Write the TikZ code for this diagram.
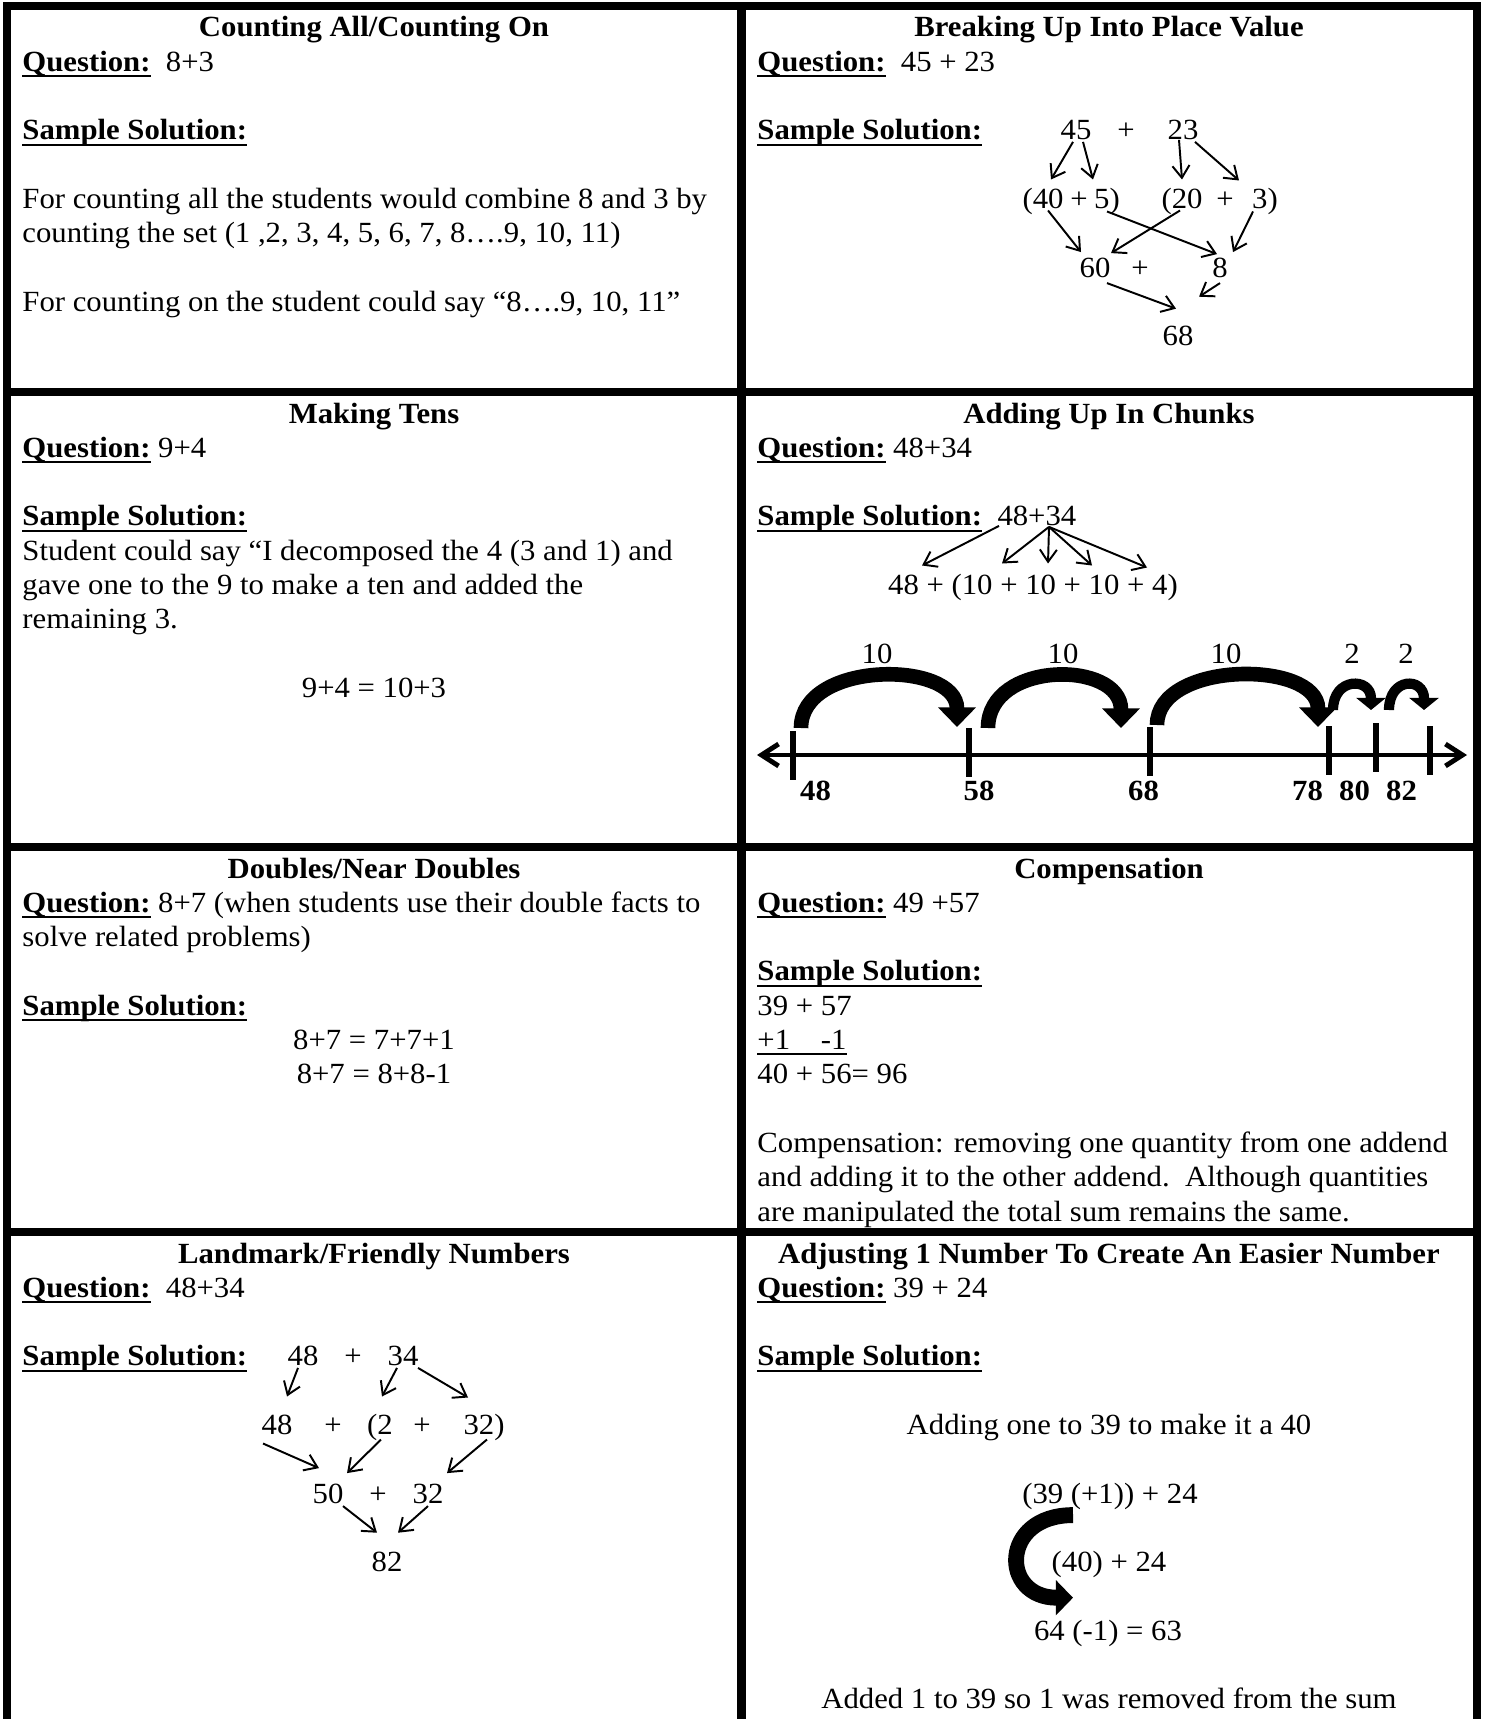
\documentclass[tikz,border=0pt,12pt]{standalone}
\usepackage{fontspec}
\setmainfont{Liberation Serif}[FakeStretch=1.05]
\usetikzlibrary{arrows.meta,calc}
\newcommand{\undl}[1]{\setbox0=\hbox{#1}\rlap{\rule[-2.4pt]{\wd0}{0.9pt}}\box0\relax}
\tikzset{
  gridline/.style={line width=3.3pt},
  ttl/.style={font=\bfseries,anchor=base,inner sep=0pt},
  txt/.style={anchor=base west,inner sep=0pt},
  ctr/.style={anchor=base,inner sep=0pt},
  nl/.style={font=\bfseries,anchor=base,inner sep=0pt},
  arr/.style={-{Straight Barb[length=5pt,width=7pt]},line width=0.8pt},
  numline/.style={{Straight Barb[length=7pt,width=9pt]}-{Straight Barb[length=7pt,width=9pt]},line width=2pt},
  tickline/.style={line width=2.2pt},
  jump/.style={-{Triangle[length=8pt,width=15pt]},line width=6pt},
  hop/.style={-{Triangle[length=5pt,width=12pt]},line width=4.2pt},
  swing/.style={-{Triangle[length=7pt,width=14pt]},line width=6.5pt}
}
\begin{document}
\begin{tikzpicture}[x=0.41pt,y=-0.41pt]
  \useasboundingbox (0,0) rectangle (1484,1719);

  \node[ttl] (t1) at (374,37) {Counting All/Counting On};
  \node[txt] (q1) at (22,71.3) {\undl{\textbf{Question:}}\ \ 8+3};
  \node[txt] (s1) at (22,139.9) {\undl{\textbf{Sample Solution:}}};
  \node[txt] (c1a) at (22,208.5) {For counting all the students would combine 8 and 3 by};
  \node[txt] (c1b) at (22,242.8) {counting the set (1 ,2, 3, 4, 5, 6, 7, 8….9, 10, 11)};
  \node[txt] (c1c) at (22,311.4) {For counting on the student could say “8….9, 10, 11”};

  \node[ttl] (t2) at (1109,37) {Breaking Up Into Place Value};
  \node[txt] (q2) at (757,71.3) {\undl{\textbf{Question:}}\ \ 45 + 23};
  \node[txt] (s2) at (757,139.9) {\undl{\textbf{Sample Solution:}}};
  \node[ctr] (p45) at (1076,139.9) {45};
  \node[ctr] (ppa) at (1126,139.9) {+};
  \node[ctr] (p23) at (1183,139.9) {23};
  \node[ctr] (p40) at (1043,208.5) {(40};
  \node[ctr] (ppb) at (1079,208.5) {+};
  \node[ctr] (p5) at (1107,208.5) {5)};
  \node[ctr] (p20) at (1182,208.5) {(20};
  \node[ctr] (ppc) at (1225,208.5) {+};
  \node[ctr] (p3) at (1265,208.5) {3)};
  \node[ctr] (p60) at (1095,277.1) {60};
  \node[ctr] (ppd) at (1140,277.1) {+};
  \node[ctr] (p8) at (1220,277.1) {8};
  \node[ctr] (p68) at (1178,345.7) {68};
  \foreach \a/\ax/\ay/\b/\bx/\by in {p45/-3/2/p40/8/-29,p45/7/2/p5/-14/-29,
      p23/-4/0/p20/0/-29,p23/12/2/p3/-26/-28,p40/5/2/p60/-14/-25,p5/0/3/p8/-3/-23,
      p20/-2/2/p60/16/-24,p3/-12/3/p8/13/-25,p60/12/6/p68/-2/-37,p8/0/6/p68/21/-49}
    \draw[arr] ($(\a.base)+(\ax,\ay)$) -- ($(\b.base)+(\bx,\by)$);

  \node[ttl] (t3) at (374,423) {Making Tens};
  \node[txt] (q3) at (22,457.3) {\undl{\textbf{Question:}} 9+4};
  \node[txt] (s3) at (22,525.9) {\undl{\textbf{Sample Solution:}}};
  \node[txt] (c3a) at (22,560.2) {Student could say “I decomposed the 4 (3 and 1) and};
  \node[txt] (c3b) at (22,594.5) {gave one to the 9 to make a ten and added the};
  \node[txt] (c3c) at (22,628.8) {remaining 3.};
  \node[ctr] (c3d) at (374,697.4) {9+4 = 10+3};

  \node[ttl] (t4) at (1109,423) {Adding Up In Chunks};
  \node[txt] (q4) at (757,457.3) {\undl{\textbf{Question:}} 48+34};
  \node[txt] (s4) at (757,525.9) {\undl{\textbf{Sample Solution:}}};
  \node[txt] (k4834) at (997,525.9) {48+34};
  \node[ctr] (ksum) at (1033,594.5) {48 + (10 + 10 + 10 + 4)};
  \draw[arr] ($(k4834.base west)+(2,0)$) -- ($(ksum.base)+(-111,-29)$);
  \foreach \bx/\by in {-31/-31,15/-31,59/-29,114/-27}
    \draw[arr] ($(k4834.base west)+(52,1)$) -- ($(ksum.base)+(\bx,\by)$);
  \coordinate (nlL) at (757,755);
  \coordinate (nlR) at (1467,755);
  \draw[numline] (nlL) -- (nlR);
  \foreach \x/\t in {793/731,969/728,1150/727,1329/726,1376/723,1430/726}
    \draw[tickline] (\x,\t) -- (\x,\t+49);
  \foreach \x/\v in {815.5/48,979/58,1143.5/68,1307.5/78,1354.5/80,1401.5/82}
    \node[nl] (v\v) at (\x,800.3) {\v};
  \foreach \x/\v/\n in {877/10/a,1063/10/b,1226/10/c,1352/2/d,1406/2/e}
    \node[ctr] (j\n) at (\x,663.1) {\v};
  \foreach \a/\b/\c/\d in {801/728/957/727,988/728/1121/728,1157/725/1318/727}
    \draw[jump] (\a,\b) .. controls (\a,660) and (\c,660) .. (\c,\d);
  \foreach \a/\c in {1333/1371,1389/1424}
    \draw[hop] (\a,710) .. controls (\a,677) and (\c,677) .. (\c,710);

  \node[ttl] (t5) at (374,878) {Doubles/Near Doubles};
  \node[txt] (q5) at (22,912.3) {\undl{\textbf{Question:}} 8+7 (when students use their double facts to};
  \node[txt] (q5b) at (22,946.6) {solve related problems)};
  \node[txt] (s5) at (22,1015.2) {\undl{\textbf{Sample Solution:}}};
  \node[ctr] (d5a) at (374,1049.5) {8+7 = 7+7+1};
  \node[ctr] (d5b) at (374,1083.8) {8+7 = 8+8-1};

  \node[ttl] (t6) at (1109,878) {Compensation};
  \node[txt] (q6) at (757,912.3) {\undl{\textbf{Question:}} 49 +57};
  \node[txt] (s6) at (757,980.9) {\undl{\textbf{Sample Solution:}}};
  \node[txt] (e6a) at (757,1015.2) {39 + 57};
  \node[txt] (e6b) at (757,1049.5) {\undl{+1\ \ \ \ -1}};
  \node[txt] (e6c) at (757,1083.8) {40 + 56= 96};
  \node[txt] (e6d) at (757,1152.4) {Compensation: removing one quantity from one addend};
  \node[txt] (e6e) at (757,1186.7) {and adding it to the other addend.\ \ Although quantities};
  \node[txt] (e6f) at (757,1221) {are manipulated the total sum remains the same.};

  \node[ttl] (t7) at (374,1263) {Landmark/Friendly Numbers};
  \node[txt] (q7) at (22,1297.3) {\undl{\textbf{Question:}}\ \ 48+34};
  \node[txt] (s7) at (22,1365.9) {\undl{\textbf{Sample Solution:}}};
  \node[ctr] (l48a) at (303,1365.9) {48};
  \node[ctr] (lpa) at (353,1365.9) {+};
  \node[ctr] (l34) at (403,1365.9) {34};
  \node[ctr] (l48b) at (277,1434.5) {48};
  \node[ctr] (lpb) at (333,1434.5) {+};
  \node[ctr] (l2) at (380,1434.5) {(2};
  \node[ctr] (lpc) at (422,1434.5) {+};
  \node[ctr] (l32a) at (484,1434.5) {32)};
  \node[ctr] (l50) at (328,1503.1) {50};
  \node[ctr] (lpd) at (378,1503.1) {+};
  \node[ctr] (l32b) at (428,1503.1) {32};
  \node[ctr] (l82) at (387,1571.7) {82};
  \foreach \a/\ax/\ay/\b/\bx/\by in {l48a/-5/2/l48b/10/-38,l34/-6/2/l2/2/-38,
      l34/15/2/l32a/-16/-37,l48b/-14/9/l50/-9/-35,l2/1/5/l50/19/-30,
      l32a/3/5/l32b/19/-30,l50/15/3/l82/-10/-39,l32b/0/3/l82/11/-39}
    \draw[arr] ($(\a.base)+(\ax,\ay)$) -- ($(\b.base)+(\bx,\by)$);

  \node[ttl] (t8) at (1109,1263) {Adjusting 1 Number To Create An Easier Number};
  \node[txt] (q8) at (757,1297.3) {\undl{\textbf{Question:}} 39 + 24};
  \node[txt] (s8) at (757,1365.9) {\undl{\textbf{Sample Solution:}}};
  \node[ctr] (m8a) at (1109,1434.5) {Adding one to 39 to make it a 40};
  \node[ctr] (m8b) at (1110,1503.1) {(39 (+1)) + 24};
  \node[ctr] (m8c) at (1109,1571.7) {(40) + 24};
  \node[ctr] (m8d) at (1108,1640.3) {64 (-1) = 63};
  \node[ctr] (m8e) at (1109,1708.9) {Added 1 to 39 so 1 was removed from the sum};
  \draw[swing] ($(m8b.base)+(-37,12)$) .. controls +(-73,0) and +(-73,0) .. ($(m8c.base)+(-36,26)$);

  \draw[gridline] (7,1719) -- (7,6) -- (1477,6) -- (1477,1719);
  \draw[gridline] (741.5,6) -- (741.5,1719);
  \foreach \y in {392,847,1232}
    \draw[gridline] (7,\y) -- (1477,\y);
\end{tikzpicture}
\end{document}
